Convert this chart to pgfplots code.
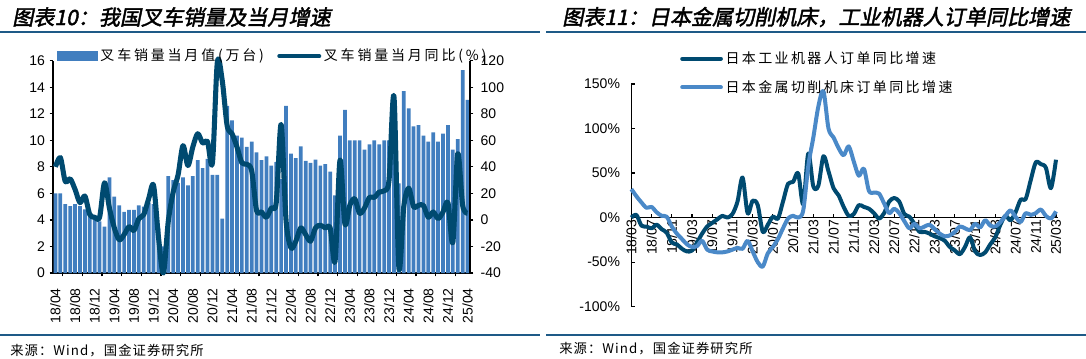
\documentclass[border=0pt]{standalone}
\usepackage{fontspec}
\usepackage{pgfplots}
\usepackage{pgfplotstable}
\pgfplotsset{compat=1.18}
\setmainfont{Liberation Sans}
\newfontfamily\cjktitle[FakeSlant=0.2,FakeBold=2]{Noto Sans CJK SC}
\newfontfamily\cjkleg[LetterSpace=20]{Noto Sans CJK SC}
\newfontfamily\cjklegb[LetterSpace=17]{Noto Sans CJK SC}
\newfontfamily\cjksrc[LetterSpace=8]{Noto Sans CJK SC}
\definecolor{barblue}{RGB}{65,126,191}
\definecolor{darkline}{RGB}{0,74,112}
\definecolor{lightline}{RGB}{74,137,200}
\definecolor{rulecol}{RGB}{30,90,135}

\pgfplotstableread{
i bar yoy
0 6.0 40
1 6.0 47
2 5.2 29
3 5.05 31
4 5.2 23
5 5.05 13
6 4.8 18
7 4.55 4
8 4.2 2
9 3.9 2
10 3.5 28
11 7.2 9
12 5.75 -6
13 5.1 -15
14 4.6 -11
15 4.75 -5
16 4.75 -8
17 5.1 1
18 5.0 4
19 5.3 16
20 5.2 26
21 3.4 -13
22 2.0 -40
23 7.3 -1
24 7.0 21
25 6.8 34
26 7.2 56
27 6.6 41
28 7.3 55
29 8.5 65
30 7.9 58
31 8.6 59
32 7.4 43
33 7.4 119
34 4.1 105
35 12.6 71
36 11.5 65
37 10.35 55
38 10.2 43
39 9.5 42
40 9.9 37
41 9.1 7
42 8.5 6
43 8.8 2
44 8.1 9
45 8.35 13
46 7.1 72
47 12.6 0
48 9.0 -21
49 8.65 -16
50 9.55 -6
51 8.45 -11
52 8.3 -16
53 8.55 -6
54 8.1 -4
55 8.2 -6
56 7.65 -6
57 5.85 -31
58 10.35 45
59 12.3 -3
60 10.0 11
61 10.0 16
62 10.0 5
63 9.3 9
64 9.7 17
65 10.0 17
66 9.7 21
67 10.0 22
68 10.0 30
69 11.25 93
70 6.75 -36
71 13.7 10
72 12.4 24
73 11.05 10
74 11.15 11
75 10.35 11
76 9.9 2
77 10.6 6
78 9.9 1
79 10.5 6
80 11.15 13
81 9.3 -17
82 10.1 50
83 15.3 11
84 13.05 5
}\forklift

\pgfplotstableread{
j robot machine
0 0 32
1 3 24
2 -9 17
3 -10 11
4 -12 12
5 -8 6
6 -13 2
7 -17 1
8 -28 -10
9 -30 -18
10 -35 -24
11 -38 -30
12 -37 -33
13 -28 -32
14 -18 -26
15 -10 -36
16 -6 -38
17 -2 -39
18 2 -39
19 0 -38
20 4 -36
21 18 -34
22 45 -35
23 5 -26
24 19 -38
25 14 -50
26 -16 -55
27 -8 -40
28 1 -33
29 -1 -24
30 18 -12
31 38 -1
32 40 2
33 50 0
34 15 8
35 72 58
36 35 90
37 36 125
38 69 142
39 52 100
40 33 90
41 25 78
42 12 70
43 2 80
44 4 63
45 14 47
46 12 55
47 10 30
48 5 28
49 -1 27
50 5 16
51 18 5
52 22 10
53 18 5
54 4 -4
55 1 -12
56 -7 -7
57 -16 -12
58 -16 -10
59 -18 -8
60 -21 -13
61 -23 -18
62 -26 -21
63 -33 -20
64 -37 -16
65 -41 -10
66 -33 -12
67 -22 -14
68 -38 -7
69 -42 -11
70 -39 -3
71 -30 -9
72 -22 -10
73 -8 -5
74 2 2
75 -3 8
76 6 1
77 20 -5
78 21 5
79 42 3
80 62 5
81 60 9
82 56 2
83 33 -1
84 65 7
}\japan

\begin{document}
\begin{tikzpicture}
\path[use as bounding box] (0,0) rectangle (814.5pt,268.5pt);
% titles and rules
\node[anchor=west, inner sep=0pt] at (9pt,255.75pt) {\cjktitle\fontsize{15.8}{18}\selectfont 图表10：我国叉车销量及当月增速};
\node[anchor=west, inner sep=0pt] at (421.5pt,255.75pt) {\cjktitle\fontsize{15.8}{18}\selectfont 图表11：日本金属切削机床，工业机器人订单同比增速};
\draw[rulecol, line width=1.2pt] (0,244.5pt) -- (405pt,244.5pt);
\draw[rulecol, line width=1.2pt] (409.5pt,244.5pt) -- (814.5pt,244.5pt);
\draw[rulecol, line width=1.2pt] (0,17.25pt) -- (405pt,17.25pt);
\draw[rulecol, line width=1.2pt] (409.5pt,17.25pt) -- (814.5pt,17.25pt);
\node[anchor=west, inner sep=0pt] at (7.5pt,5.25pt) {\cjksrc\fontsize{10}{12}\selectfont 来源：Wind，国金证券研究所};
\node[anchor=west, inner sep=0pt] at (419.25pt,6.75pt) {\cjksrc\fontsize{10}{12}\selectfont 来源：Wind，国金证券研究所};

\pgfplotsset{
  every axis/.append style={
    /pgf/number format/assume math mode=true,
    tick label style={font=\fontsize{10.5}{12}\selectfont},
    axis line style={-, line width=1pt, black},
    every tick/.style={black, line width=0.9pt},
  }
}

% ---------- left chart: bars ----------
\begin{axis}[
  at={(39.75pt,63.75pt)}, anchor=south west,
  scale only axis, width=312.75pt, height=159.2pt,
  axis x line=bottom, axis y line=left,
  axis line style={-},
  xmin=-0.5, xmax=84.5, ymin=0, ymax=16,
  ytick={0,2,...,16},
  tick align=outside, major tick length=2.5pt,
  xtick={1.5,5.5,...,81.5}, xticklabels={},
  extra x ticks={0,4,...,84},
  extra x tick labels={18/04,18/08,18/12,19/04,19/08,19/12,20/04,20/08,20/12,21/04,21/08,21/12,22/04,22/08,22/12,23/04,23/08,23/12,24/04,24/08,24/12,25/04},
  extra x tick style={major tick length=0pt, xticklabel style={rotate=90, anchor=east}, xticklabel shift=8pt},
  xtick pos=left, ytick pos=left,
  ybar, bar width=0.76, bar shift=0pt,
]
\addplot[fill=barblue, draw=none] table[x=i, y=bar]{\forklift};
\end{axis}

% ---------- left chart: yoy line ----------
\begin{axis}[
  at={(39.75pt,63.75pt)}, anchor=south west,
  scale only axis, width=312.75pt, height=159.2pt,
  axis y line=right, axis x line=none,
  axis line style={-},
  xmin=-0.5, xmax=84.5, ymin=-40, ymax=120,
  ytick={-40,-20,...,120},
  tick align=outside, major tick length=2.5pt,
  ytick pos=right, yticklabel pos=right,
  yticklabel shift=2pt,
  clip=false,
  legend style={at={(0.0096,1.022)}, anchor=west, draw=none, fill=none, inner sep=0pt,
    font=\cjkleg\fontsize{10.5}{12}\selectfont, legend columns=2,
    /tikz/every even column/.append style={column sep=8pt}},
  legend cell align=left,
]
\addlegendimage{legend image code/.code={\fill[barblue] (0pt,-3pt) rectangle (30pt,3.5pt);}}
\addlegendentry{叉车销量当月值(万台)}
\addplot[darkline, line width=3.8pt, smooth, line join=round,
  legend image code/.code={\draw[darkline, line width=3pt, line cap=round] (1pt,0pt) -- (31pt,0pt);}]
  table[x=i, y=yoy]{\forklift};
\addlegendentry{叉车销量当月同比(\%)}
\end{axis}

% ---------- right chart ----------
\begin{axis}[
  at={(473.5pt,38.5pt)}, anchor=south west,
  scale only axis, width=320pt, height=167pt,
  axis x line=middle, axis y line=left,
  axis line style={-},
  hide obscured x ticks=false, hide obscured y ticks=false,
  xmin=0, xmax=84.4, ymin=-100, ymax=150,
  ytick={-100,-50,...,150},
  yticklabel={\pgfmathprintnumber{\tick}\%},
  yticklabel shift=5pt,
  xtick={0,4,...,84},
  xticklabels={18/03,18/07,18/11,19/03,19/07,19/11,20/03,20/07,20/11,21/03,21/07,21/11,22/03,22/07,22/11,23/03,23/07,23/11,24/03,24/07,24/11,25/03},
  xticklabel style={rotate=90, anchor=east, inner sep=1.5pt},
  tick align=inside, major tick length=3pt,
  clip=false,
  legend style={at={(0.114,1.049)}, anchor=west, draw=none, fill=none, inner sep=0pt,
    row sep=7pt, font=\cjklegb\fontsize{10.5}{12}\selectfont},
  legend cell align=left,
]
\addplot[darkline, line width=3pt, smooth, line join=round,
  legend image code/.code={\draw[darkline, line width=3pt, line cap=round] (1pt,0pt) -- (30pt,0pt);}]
  table[x=j, y=robot]{\japan};
\addlegendentry{日本工业机器人订单同比增速}
\addplot[lightline, line width=3pt, smooth, line join=round,
  legend image code/.code={\draw[lightline, line width=3pt, line cap=round] (1pt,0pt) -- (30pt,0pt);}]
  table[x=j, y=machine]{\japan};
\addlegendentry{日本金属切削机床订单同比增速}
\end{axis}
\end{tikzpicture}
\end{document}
